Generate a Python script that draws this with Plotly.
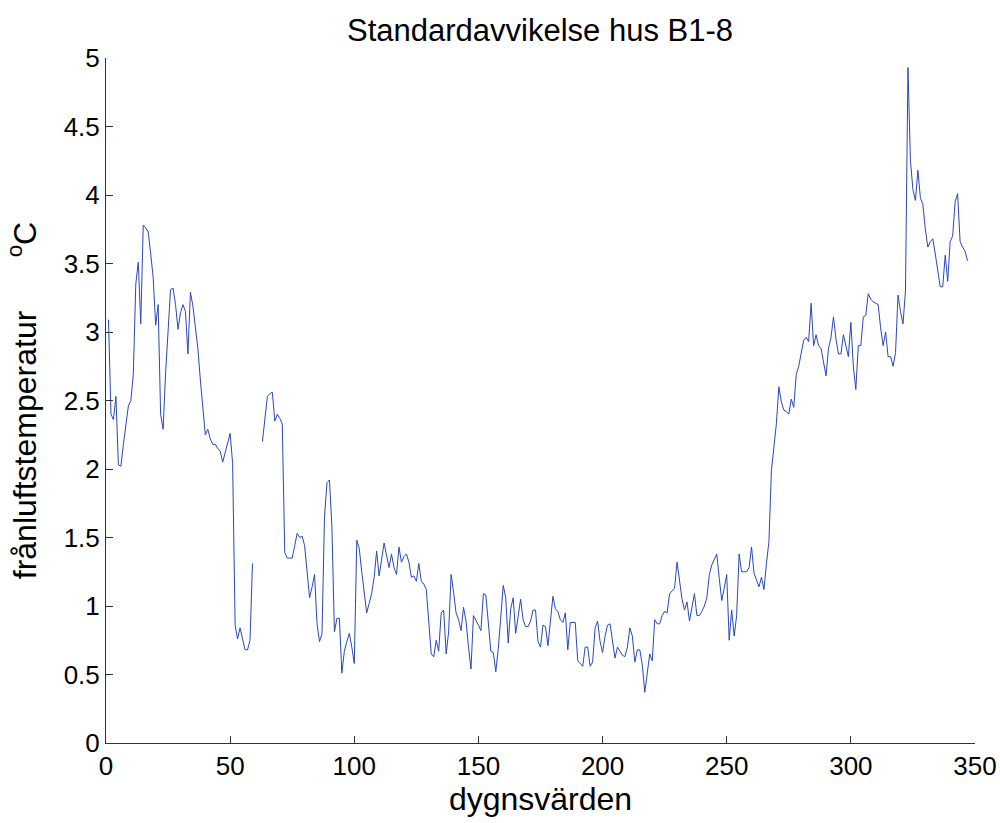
import plotly.graph_objects as go

title_text = "Standardavvikelse hus B1-8"
x_label = "dygnsvärden"
y_label = "frånluftstemperatur" + "\u00a0" * 6 + "<sup>o</sup>C"

x_ticks = [0, 50, 100, 150, 200, 250, 300, 350]
y_ticks = [0, 0.5, 1, 1.5, 2, 2.5, 3, 3.5, 4, 4.5, 5]

N = None
std_values = [
    3.09, 2.40, 2.36, 2.53, 2.03, 2.02, 2.18, 2.33, 2.46, 2.50,
    2.69, 3.35, 3.51, 3.06, 3.78, 3.76, 3.73, 3.57, 3.40, 3.05,
    3.20, 2.40, 2.29, 2.70, 3.00, 3.31, 3.32, 3.20, 3.02, 3.14,
    3.20, 3.15, 2.84, 3.29, 3.19, 3.05, 2.88, 2.65, 2.45, 2.25,
    2.29, 2.22, 2.18, 2.18, 2.15, 2.13, 2.05, 2.12, 2.19, 2.26,
    2.04, 0.86, 0.76, 0.84, 0.76, 0.68, 0.68, 0.75, 1.31, N,
    N, N, 2.20, 2.37, 2.53, 2.55, 2.56, 2.35, 2.40, 2.37,
    2.33, 1.39, 1.35, 1.35, 1.35, 1.44, 1.53, 1.50, 1.51, 1.44,
    1.25, 1.06, 1.14, 1.23, 0.87, 0.74, 0.80, 1.65, 1.90, 1.92,
    1.57, 0.81, 0.91, 0.91, 0.51, 0.67, 0.74, 0.80, 0.70, 0.58,
    1.48, 1.42, 1.25, 1.10, 0.95, 1.02, 1.09, 1.21, 1.40, 1.22,
    1.34, 1.46, 1.37, 1.28, 1.38, 1.28, 1.23, 1.43, 1.32, 1.36,
    1.38, 1.32, 1.21, 1.22, 1.18, 1.31, 1.18, 1.16, 1.12, 0.90,
    0.65, 0.63, 0.75, 0.67, 0.95, 0.97, 0.65, 0.81, 1.23, 1.10,
    0.95, 0.90, 0.82, 0.99, 0.89, 0.70, 0.54, 0.93, 0.90, 0.86,
    0.82, 1.09, 1.08, 0.88, 0.67, 0.66, 0.52, 0.69, 0.90, 1.15,
    1.06, 0.73, 0.98, 1.06, 0.80, 0.93, 1.05, 0.90, 0.85, 0.85,
    0.89, 0.97, 0.97, 0.74, 0.70, 0.86, 0.85, 0.71, 0.91, 1.07,
    0.98, 0.96, 0.90, 0.88, 0.95, 0.68, 0.88, 0.88, 0.88, 0.60,
    0.58, 0.56, 0.70, 0.70, 0.56, 0.59, 0.84, 0.89, 0.74, 0.66,
    0.78, 0.86, 0.87, 0.75, 0.62, 0.70, 0.67, 0.64, 0.63, 0.70,
    0.84, 0.78, 0.59, 0.68, 0.68, 0.57, 0.37, 0.51, 0.65, 0.60,
    0.90, 0.87, 0.87, 0.93, 0.96, 0.95, 1.09, 1.11, 1.13, 1.32,
    1.17, 1.05, 0.97, 1.03, 0.89, 0.99, 1.09, 0.93, 0.93, 0.96,
    1.00, 1.06, 1.23, 1.30, 1.34, 1.38, 1.20, 1.04, 1.13, 1.23,
    0.75, 0.97, 0.78, 0.93, 1.38, 1.25, 1.25, 1.25, 1.28, 1.43,
    1.24, 1.19, 1.14, 1.21, 1.12, 1.31, 1.47, 1.99, 2.16, 2.33,
    2.60, 2.49, 2.43, 2.42, 2.40, 2.51, 2.45, 2.69, 2.75, 2.84,
    2.94, 2.96, 2.93, 3.21, 2.90, 2.98, 2.90, 2.88, 2.78, 2.68,
    2.88, 2.96, 3.11, 2.95, 2.84, 2.84, 2.98, 2.90, 2.82, 3.07,
    2.75, 2.58, 2.90, 2.90, 3.11, 3.12, 3.28, 3.24, 3.22, 3.21,
    3.20, 3.03, 2.90, 3.00, 2.82, 2.82, 2.75, 2.85, 3.27, 3.15,
    3.06, 3.30, 4.93, 4.25, 4.04, 3.96, 4.18, 3.98, 3.93, 3.75,
    3.62, 3.66, 3.68, 3.57, 3.45, 3.33, 3.33, 3.56, 3.37, 3.66,
    3.70, 3.95, 4.01, 3.66, 3.62, 3.59, 3.52,
]
days = list(range(1, len(std_values) + 1))

font_family = "Liberation Sans, Arial, sans-serif"

fig = go.Figure()
fig.add_trace(go.Scatter(
    x=days, y=std_values, mode="lines",
    line=dict(color="#2a48b8", width=1),
    connectgaps=False, showlegend=False, hoverinfo="skip",
))

axis_common = dict(
    showgrid=False, zeroline=False, showline=True,
    linecolor="#333333", linewidth=1,
    ticks="inside", ticklen=7, tickwidth=1, tickcolor="#333333",
    tickfont=dict(family=font_family, size=26, color="black"),
    mirror=False, automargin=False, ticklabeloverflow="allow",
)

fig.update_layout(
    width=1000, height=823,
    paper_bgcolor="white", plot_bgcolor="white",
    margin=dict(l=106, r=25, t=58, b=80),
    title=dict(text=title_text, x=0.540, xanchor="center", y=0.9635, yanchor="middle",
               font=dict(family=font_family, size=31, color="black")),
    xaxis=dict(range=[0, 350], tickvals=x_ticks, ticktext=[str(v) for v in x_ticks],
               title=dict(text=x_label, font=dict(family=font_family, size=32, color="black"), standoff=6),
               **axis_common),
    yaxis=dict(range=[0, 5], tickvals=y_ticks, ticktext=[f"{v:g}" for v in y_ticks],
               title=dict(text=y_label, font=dict(family=font_family, size=32, color="black"), standoff=17),
               **axis_common),
)

fig.write_html(
    "out.html",
    config={"displayModeBar": False, "staticPlot": True},
    post_script="document.body.style.margin='0';document.body.style.overflow='hidden';",
)
